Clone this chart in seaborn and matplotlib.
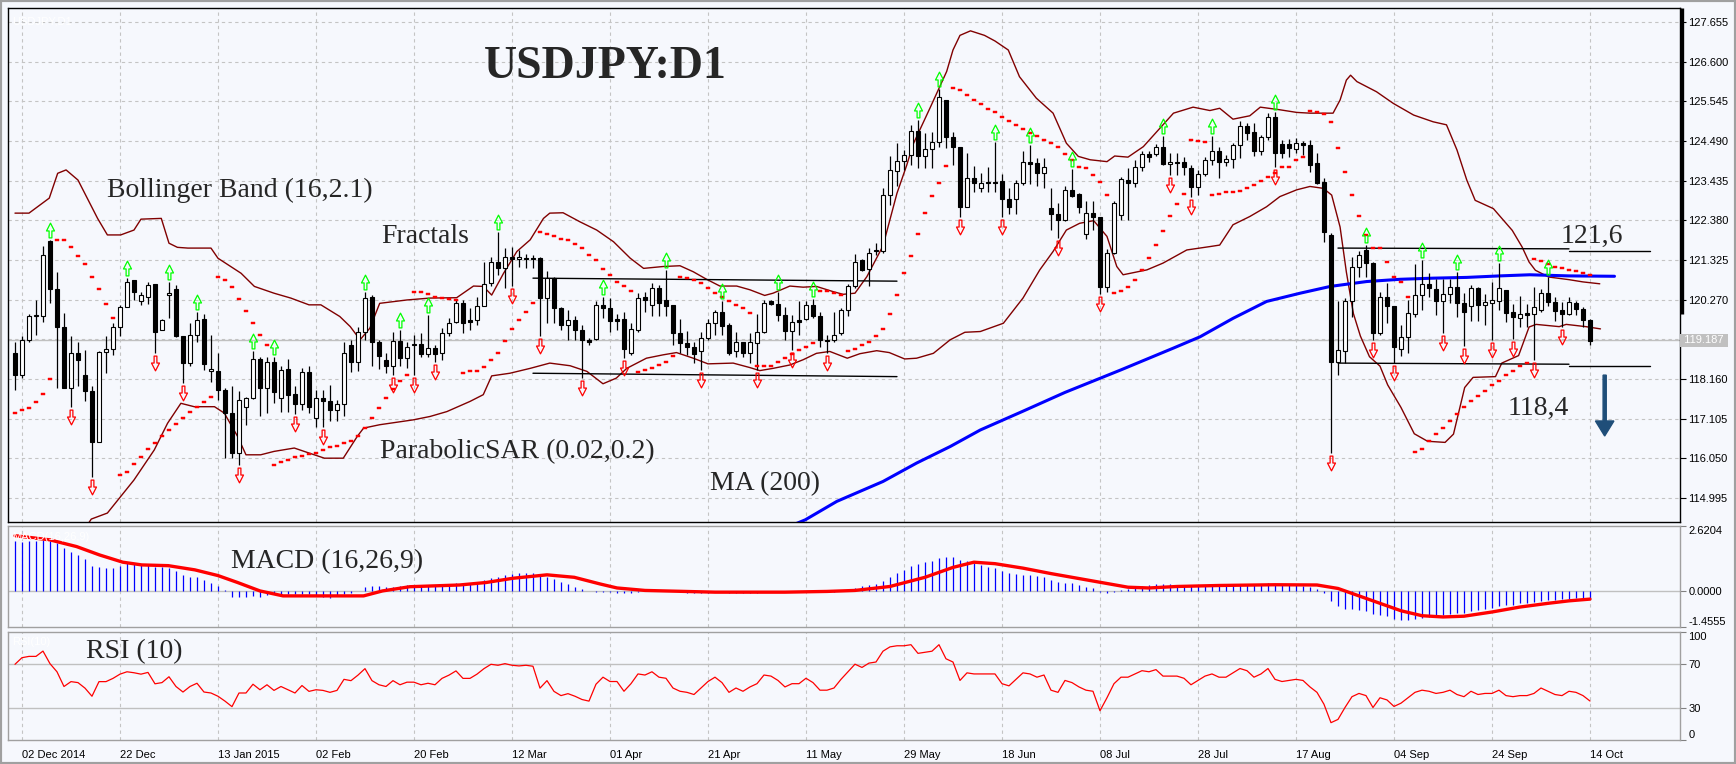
import numpy as np
import matplotlib
matplotlib.use('Agg')
import matplotlib.pyplot as plt
import matplotlib.transforms as mtransforms
from matplotlib.path import Path
from matplotlib.patches import Rectangle
import seaborn as sns

sns.set_style('white')
plt.rcParams['font.family'] = ['Liberation Sans', 'DejaVu Sans']

# ---------------- data (bar index 0 = 01 Dec 2014, daily bars) ----------------
opens = [118.86,118.27,119.20,119.83,119.83,121.83,120.54,119.53,117.93,118.86,
         118.27,117.84,116.49,118.87,118.95,119.53,120.07,120.78,120.24,120.35,
         120.69,119.46,120.40,120.54,119.29,118.58,119.33,119.75,118.37,118.37,
         117.87,117.25,116.18,117.42,117.64,118.68,117.91,118.62,117.64,118.42,
         117.75,117.49,118.34,117.11,117.66,117.56,117.34,117.49,119.07,118.62,
         119.42,120.33,119.15,118.65,118.49,119.18,118.71,119.06,119.09,118.82,
         118.98,118.84,119.37,119.68,120.17,119.73,119.73,120.10,120.71,121.28,
         121.10,121.41,121.35,121.37,121.37,121.37,120.31,120.84,120.04,119.60,
         119.73,119.46,119.20,119.22,120.13,120.04,119.75,119.75,118.86,119.46,
         120.33,120.13,120.59,120.26,120.13,119.38,119.11,119.00,118.91,119.24,
         119.66,119.93,119.60,118.89,119.13,118.84,119.11,119.42,120.22,120.15,
         119.86,119.44,119.73,119.75,120.13,119.84,119.20,119.20,119.37,119.98,
         120.62,121.31,121.08,121.60,121.55,123.05,123.70,123.96,124.12,124.76,
         124.08,124.27,124.46,125.58,124.59,124.34,122.74,123.50,123.23,123.41,
         123.41,123.43,122.94,122.94,123.37,123.92,123.90,123.65,122.70,122.55,
         122.39,123.19,123.08,122.02,122.57,122.46,120.60,121.50,122.52,123.45,
         123.37,123.79,124.14,124.14,124.32,123.87,123.93,123.93,123.76,123.26,
         123.61,123.99,124.22,123.93,124.00,124.38,124.89,124.74,124.21,124.59,
         125.12,124.40,124.40,124.27,124.43,124.38,123.90,123.41,121.99,118.62,
         118.89,120.24,121.13,121.59,121.24,119.37,120.35,120.10,118.95,119.27,
         119.89,120.39,120.69,120.54,120.22,120.41,120.60,120.19,120.10,120.57,
         120.12,120.19,120.24,120.53,119.93,119.78,119.91,119.89,120.00,120.45,
         120.20,119.98,119.89,120.18,120.02,119.73]
highs = [119.15,119.29,119.89,120.26,121.70,121.86,121.01,119.91,119.31,119.15,
         118.93,117.96,118.89,119.30,119.64,120.13,120.84,120.78,120.48,120.75,
         120.69,119.75,120.75,120.66,119.29,119.64,119.95,119.89,119.33,118.86,
         117.91,117.96,117.83,117.67,118.89,118.75,118.75,118.75,118.49,118.68,
         117.96,118.44,118.49,117.87,117.87,118.00,117.60,119.15,119.20,119.55,
         120.48,120.40,119.20,118.84,119.42,119.46,119.15,119.33,119.38,119.86,
         119.07,119.51,119.77,120.26,120.26,120.04,120.35,121.28,121.41,122.08,
         121.64,121.66,121.59,121.48,121.46,121.40,121.03,120.88,120.08,120.00,
         119.84,119.60,119.24,120.22,120.35,120.31,119.89,119.95,119.66,120.44,
         120.48,120.72,120.66,121.06,120.13,119.75,119.44,119.15,119.42,119.75,
         119.98,120.22,119.64,119.42,119.15,119.37,119.89,120.26,120.26,120.48,
         120.08,119.86,120.22,120.22,120.28,119.95,119.33,119.95,120.04,120.69,
         121.48,121.34,121.64,121.77,123.23,124.08,124.43,124.25,124.92,125.05,
         124.70,124.74,125.87,125.58,124.74,124.34,124.16,123.83,123.65,123.79,
         124.47,123.61,123.23,123.45,124.21,124.39,124.03,124.03,123.23,122.83,
         123.28,123.74,123.10,122.88,122.88,122.46,121.61,122.90,123.54,123.76,
         123.99,124.23,124.21,124.41,124.62,124.16,124.18,124.07,123.85,123.72,
         124.06,124.61,124.34,124.12,124.43,125.03,124.98,124.98,124.65,125.23,
         125.27,124.52,124.54,124.56,124.49,124.52,124.16,123.50,122.03,120.24,
         120.30,121.41,121.56,121.72,121.28,120.48,120.72,120.10,119.60,120.26,
         121.22,121.32,120.99,120.81,120.81,120.81,121.01,120.44,120.66,120.60,
         120.42,120.75,121.25,120.53,120.15,120.37,120.15,120.60,120.56,120.87,
         120.34,120.20,120.34,120.23,120.07,119.76]
lows = [117.87,118.18,119.13,119.33,119.68,120.19,117.93,117.91,117.42,117.96,
        117.56,115.56,116.47,118.31,118.80,119.29,120.07,120.26,120.13,120.16,
        118.86,119.45,119.79,119.27,118.05,118.49,119.15,118.40,118.09,117.60,
        116.05,116.05,115.87,116.94,117.62,117.16,117.25,117.51,117.29,117.29,
        117.23,117.34,117.25,116.89,116.89,117.03,117.03,117.16,118.33,118.38,
        119.20,118.49,118.42,118.31,118.27,118.49,118.44,118.27,118.75,118.75,
        118.62,118.67,119.29,119.64,119.38,119.46,119.60,120.10,120.62,120.93,
        120.57,120.62,121.15,121.10,121.10,119.29,119.64,119.66,119.46,119.20,
        119.20,118.18,119.07,119.20,119.77,119.42,119.46,118.71,118.80,119.42,
        119.95,119.84,119.82,119.82,119.06,118.84,118.80,118.58,118.40,119.20,
        119.33,119.33,118.80,118.75,118.75,118.58,118.40,119.37,120.13,119.71,
        119.20,118.93,119.33,119.73,119.77,119.02,118.84,119.15,119.33,119.82,
        120.57,121.02,120.62,121.46,121.50,122.79,123.28,123.72,123.85,123.76,
        123.76,123.76,124.34,124.30,123.85,122.48,122.73,123.14,123.14,123.14,
        123.14,122.48,122.55,122.55,123.32,123.35,123.29,123.23,122.12,121.90,
        122.35,123.01,122.57,121.88,122.12,120.42,120.46,121.48,122.39,122.39,
        123.26,123.68,123.94,124.09,123.85,123.59,123.59,123.59,123.01,123.05,
        123.56,123.85,123.50,123.83,123.76,124.03,124.52,124.09,124.12,124.52,
        123.79,124.03,124.06,124.16,124.12,123.67,123.35,121.81,116.18,118.26,
        118.58,119.80,120.88,120.88,119.20,119.33,119.64,118.58,118.77,118.84,
        119.80,119.99,120.33,119.86,119.39,120.19,119.80,119.04,119.71,119.71,
        119.60,119.20,119.99,119.68,119.21,119.55,119.55,118.65,119.94,120.11,
        119.71,119.55,119.85,119.87,119.53,119.07]
closes = [118.27,119.20,119.83,119.86,121.46,120.54,119.53,117.93,118.86,118.67,
          117.84,116.49,118.87,118.95,119.53,120.07,120.75,120.46,120.40,120.66,
          119.42,119.73,120.45,119.29,118.58,119.33,119.73,118.55,118.42,117.87,
          117.25,116.18,117.60,117.64,118.68,117.91,118.62,117.80,118.40,117.73,
          117.49,118.34,117.40,117.66,117.56,117.34,117.49,118.84,118.62,119.42,
          120.31,119.15,118.77,118.49,119.18,118.71,119.02,119.08,118.82,118.98,
          118.83,119.37,119.64,120.17,119.66,119.68,120.10,120.69,121.28,121.10,
          121.41,121.34,121.41,121.34,121.35,120.31,120.84,120.04,119.60,119.73,
          119.45,119.20,119.15,120.13,120.04,119.71,119.71,118.95,119.48,120.31,
          120.26,120.57,120.17,120.10,119.38,119.11,119.00,118.83,119.24,119.66,
          119.93,119.57,118.84,119.13,118.84,119.13,119.42,120.17,120.15,119.86,
          119.44,119.68,119.68,120.13,119.82,119.20,119.18,119.33,119.98,120.62,
          121.28,121.06,121.52,121.57,123.05,123.72,123.96,124.12,124.76,124.08,
          124.27,124.46,125.65,124.59,124.34,122.74,123.50,123.38,123.38,123.38,
          123.38,122.94,122.73,123.37,123.92,123.88,123.65,123.79,122.55,122.39,
          123.19,123.03,122.73,122.57,122.46,120.60,121.50,122.83,123.47,123.37,
          123.79,124.14,124.06,124.32,123.87,123.93,123.91,123.79,123.26,123.61,
          123.99,124.22,123.94,124.00,124.38,124.89,124.71,124.21,124.59,125.12,
          124.18,124.18,124.30,124.43,124.38,123.85,123.38,122.08,118.62,118.93,
          120.24,121.13,121.46,121.24,119.37,120.35,120.10,119.02,119.27,119.91,
          120.39,120.69,120.57,120.22,120.41,120.60,120.19,119.95,120.57,120.13,
          120.21,120.26,120.57,119.92,119.80,119.89,119.86,120.07,120.45,120.20,
          119.96,119.89,120.20,120.02,119.73,119.18]

parabolic_sar = [117.25,117.32,117.38,117.54,117.75,118.15,
    121.86,121.86,121.68,121.44,121.21,120.88,120.56,120.15,119.77,
    115.61,115.68,115.90,116.07,116.29,116.45,116.63,116.79,116.95,117.13,117.27,117.40,117.54,117.67,
    120.88,120.79,120.60,120.28,119.97,119.64,119.33,119.06,
    115.87,115.94,116.01,116.07,116.11,116.16,116.20,116.27,116.34,116.38,
    116.45,116.50,116.64,116.84,117.11,117.38,117.65,117.90,118.10,118.27,
    120.48,120.46,120.41,120.35,120.32,120.29,120.26,
    118.31,118.36,118.38,118.47,118.67,118.86,119.17,119.48,119.73,119.95,120.19,
    122.08,122.02,121.96,121.88,121.86,121.75,121.63,121.46,121.32,121.08,120.93,120.75,120.63,120.50,
    118.34,118.40,118.44,118.53,118.62,118.77,
    120.86,120.84,120.78,120.70,120.57,120.44,120.33,120.22,120.12,120.04,119.92,
    118.51,118.51,118.51,118.60,118.71,118.83,118.93,119.02,119.11,
    120.50,120.50,120.44,120.38,
    118.90,118.95,119.06,119.14,119.30,119.48,119.88,120.39,120.97,121.44,122.02,122.57,123.03,123.38,123.83,
    125.89,125.85,125.72,125.58,125.48,125.33,125.25,125.12,125.02,124.92,124.80,124.71,124.62,124.52,
    124.43,124.32,124.14,123.99,123.79,123.76,123.58,123.39,123.05,
    120.44,120.49,120.60,120.79,121.06,121.37,121.72,122.10,122.50,122.82,123.08,
    124.52,124.49,124.46,
    123.05,123.07,123.12,123.13,123.16,123.23,123.31,123.43,123.52,123.65,123.81,123.81,123.98,124.07,
    125.30,125.27,125.21,124.99,124.30,123.66,123.04,122.50,121.99,121.64,121.64,121.26,120.86,120.73,120.35,
    116.21,116.29,116.50,116.69,116.86,117.05,117.22,117.40,117.56,117.71,117.85,118.00,118.11,118.25,118.38,118.49,118.59,
    121.34,121.29,121.22,121.15,121.11,121.07,121.03,120.98,120.93]

fractal_up_bars = [5,16,22,26,34,37,50,55,59,69,84,93,101,109,114,129,132,140,145,151,164,171,180,193,201,206,212,219]
fractal_down_bars = [8,11,20,24,32,40,44,54,57,60,71,75,81,87,98,106,111,116,135,141,149,155,165,168,180,188,194,197,
                     204,207,211,214,217,221]

bb_upper_bar = [0,2.0,4.9,6.1,7.3,9.0,11.8,13.2,15.1,17.0,18.0,20.9,22.0,23.2,24.7,28.0,29.0,32.3,34.2,37.0,39.4,42.0,43.7,
    46.4,47.9,49.3,50.7,52.1,56.0,59.3,63.1,65.5,66.9,68.1,69.8,71.7,73.6,75.5,76.4,78.3,80.7,83.1,85.5,87.9,89.8,92.6,
    95.0,96.9,98.8,100.7,103.1,105.0,107.1,108.3,110.7,112.6,114.5,116.9,118.3,120.0,121.7,124.0,126.0,127.4,128.3,130.7,
    133.1,134.0,135.0,136.5,138.5,140.0,141.9,143.5,145.9,148.3,150.2,151.9,153.6,156.0,157.1,159.0,161.2,164.0,165.5,
    168.3,170.7,172.1,174.0,176.4,177.9,180.7,183.1,185.0,188.3,189.3,190.2,190.8,191.7,194.5,196.9,199.8,202.6,204.5,
    206.0,207.4,208.6,211.2,213.9,215.3,216.3,217.2,219.1,222.0,224.0,226.4]
bb_upper_val = [122.57,122.57,122.97,123.63,123.72,123.45,122.43,121.99,121.99,122.12,122.41,122.43,121.77,121.66,121.64,
    121.64,121.37,120.97,120.62,120.44,120.31,120.13,120.13,119.82,119.55,119.20,119.51,120.17,120.26,120.31,120.32,120.63,
    120.62,120.39,120.97,121.55,121.86,122.43,122.57,122.58,122.34,122.12,121.81,121.37,121.10,121.15,121.17,121.01,120.81,
    120.63,120.63,120.53,120.38,120.44,120.63,120.60,120.62,120.48,120.41,120.44,120.88,121.70,123.10,123.85,124.40,125.36,
    126.34,126.91,127.30,127.42,127.30,127.15,126.91,126.20,125.63,125.23,124.43,124.08,123.99,123.94,124.09,124.06,124.34,
    124.92,125.23,125.39,125.30,125.36,125.07,125.16,125.39,125.32,125.25,125.23,125.23,125.58,126.11,126.24,126.07,125.80,
    125.49,125.18,125.00,124.92,124.25,123.45,122.91,122.69,122.11,121.67,121.27,121.05,120.87,120.80,120.74,120.69]
bb_lower_bar = [0,5,9,10.9,13.2,17.0,19.9,21.8,23.7,25.6,28.5,29.9,31.8,33.0,35.1,37.0,39.9,41.8,44.2,46.9,48.9,49.8,52.1,
    56.9,59.3,61.7,65.0,66.9,68.1,70.7,73.6,76.4,79.3,81.7,84.0,85.9,87.4,90.2,92.6,94.5,96.9,99.0,102.6,105.0,106.4,108.3,
    110.7,112.6,114.5,116.4,118.9,120.7,123.1,124.9,127.1,128.8,131.2,133.6,135.7,137.9,141.2,144.0,146.4,148.3,150.2,
    152.1,154.1,156.0,157.4,158.3,161.7,164.0,167.4,170.7,172.1,174.0,176.4,178.8,180.7,183.1,185.0,186.9,188.1,189.3,
    190.2,191.2,192.2,193.5,195.0,196.1,198.0,199.9,201.8,204.3,205.5,207.1,208.3,211.5,212.4,214.8,216.3,217.3,220.6,
    221.6,224.4,226.5]
bb_lower_val = [113.90,113.60,113.90,114.43,114.59,115.47,116.27,116.98,117.51,117.42,117.42,117.25,116.63,116.14,116.14,
    116.23,116.32,116.20,116.05,116.05,116.63,116.85,116.94,117.07,117.16,117.29,117.56,117.74,118.24,118.31,118.44,118.58,
    118.51,118.36,118.03,118.18,118.44,118.71,118.80,118.86,118.71,118.56,118.58,118.46,118.38,118.44,118.53,118.67,118.84,
    118.89,118.71,118.83,118.91,118.86,118.69,118.71,118.84,119.20,119.40,119.42,119.64,120.31,121.06,121.55,122.12,122.30,
    122.37,121.95,121.15,120.93,121.06,121.24,121.59,121.68,121.72,122.26,122.48,122.74,123.01,123.19,123.28,123.23,123.05,
    122.20,121.00,119.90,119.30,118.75,118.50,118.00,117.40,116.70,116.50,116.47,116.69,117.93,118.20,118.22,118.58,118.78,
    119.54,119.61,119.55,119.61,119.55,119.49]

ma200_bar = [105,112.9,117.4,124.0,128.8,133.6,137.9,144,150,158,165.5,169.3,174.0,178.8,183.6,187.9,193.1,197.9,202.6,
             207.4,212.1,216.4,222,228.5]
ma200_val = [113.80,114.41,114.90,115.43,115.92,116.36,116.80,117.30,117.80,118.40,118.98,119.28,119.77,120.22,120.44,
             120.62,120.75,120.81,120.84,120.86,120.90,120.93,120.90,120.89]

# support / resistance lines: (bar0, price0, bar1, price1)
level_lines = [(74, 120.84, 126, 120.76), (74, 118.31, 126, 118.22),
               (189, 121.64, 222, 121.62), (222, 121.57, 233.6, 121.57),
               (189, 118.58, 222, 118.55), (222, 118.51, 233.6, 118.51)]

macd_main = [2.03,1.99,2.03,2.02,2.06,2.03,1.92,1.72,1.59,1.45,
    1.29,1.01,0.96,0.94,0.94,1.01,1.12,1.12,1.05,1.08,
    0.98,0.96,0.94,0.82,0.65,0.58,0.58,0.44,0.34,0.20,
    0.04,-0.23,-0.23,-0.26,-0.20,-0.23,-0.16,-0.12,-0.13,-0.12,
    -0.12,-0.13,-0.12,-0.20,-0.23,-0.30,-0.20,-0.12,-0.07,0.00,
    0.17,0.20,0.20,0.17,0.17,0.20,0.22,0.20,0.22,0.22,
    0.23,0.23,0.24,0.31,0.31,0.34,0.38,0.44,0.51,0.55,
    0.65,0.69,0.71,0.71,0.71,0.65,0.55,0.47,0.38,0.28,
    0.17,0.08,0.00,-0.03,-0.05,-0.06,-0.07,-0.09,-0.08,-0.04,
    -0.02,0.00,0.01,0.01,-0.02,-0.05,-0.07,-0.10,-0.10,-0.08,
    -0.06,-0.05,-0.08,-0.09,-0.10,-0.10,-0.08,-0.04,-0.01,0.00,
    -0.01,-0.02,-0.01,0.01,0.01,-0.02,-0.03,-0.03,0.00,0.05,
    0.13,0.18,0.24,0.29,0.42,0.58,0.72,0.85,0.99,1.08,
    1.15,1.22,1.33,1.38,1.36,1.25,1.19,1.12,1.05,0.98,
    0.92,0.82,0.72,0.68,0.66,0.63,0.60,0.57,0.46,0.36,
    0.33,0.30,0.24,0.16,0.10,-0.04,-0.10,-0.06,0.02,0.07,
    0.13,0.19,0.23,0.27,0.27,0.26,0.25,0.23,0.19,0.18,
    0.20,0.22,0.21,0.21,0.22,0.26,0.27,0.25,0.26,0.30,
    0.27,0.25,0.23,0.22,0.20,0.15,0.06,-0.10,-0.42,-0.62,
    -0.72,-0.74,-0.76,-0.79,-0.93,-0.98,-1.03,-1.12,-1.17,-1.17,
    -1.13,-1.08,-1.04,-1.01,-0.97,-0.93,-0.91,-0.89,-0.80,-0.76,
    -0.72,-0.68,-0.62,-0.58,-0.55,-0.50,-0.47,-0.44,-0.40,-0.36,
    -0.35,-0.34,-0.31,-0.30,-0.30,-0.32]
macd_signal_bar = [0,5,8.8,12.1,15.4,18.1,21.9,25.7,29,31.8,35,38.3,41.6,49.8,52.5,56.4,63.5,67.3,71.1,76,79.9,83.6,86,90,
    100,110,116,120,125,130,134,137,140,144,148,152,156,159,162,166,172,180,186,189,192,195,198,201,204,207,211,215,219,
    222,225]
macd_signal_val = [2.23,2.06,1.79,1.45,1.16,1.05,1.02,0.85,0.62,0.34,0.0,-0.20,-0.20,-0.20,0.0,0.17,0.24,0.34,0.51,0.65,
    0.55,0.28,0.12,0.02,-0.05,-0.05,-0.02,0.02,0.18,0.55,0.95,1.16,1.10,0.92,0.70,0.50,0.30,0.15,0.12,0.18,0.22,0.25,0.24,
    0.10,-0.20,-0.50,-0.80,-1.00,-1.05,-1.02,-0.85,-0.65,-0.50,-0.40,-0.33]

rsi10 = [69.9,76.0,77.2,77.2,82.1,70.5,63.0,49.4,53.9,53.0,
    47.9,40.4,53.9,53.9,56.9,60.8,63.0,62.1,60.8,62.4,
    51.9,53.0,58.4,49.4,44.3,49.4,52.4,44.3,43.4,40.4,
    35.9,30.8,43.4,43.4,51.5,46.4,51.0,45.8,49.4,46.4,
    43.4,50.3,44.9,46.4,45.8,44.0,45.8,56.0,54.8,59.9,
    65.9,54.8,51.0,49.4,54.8,51.0,53.4,53.4,51.0,52.4,
    51.0,56.9,59.9,63.8,56.9,56.9,60.8,65.9,69.9,69.0,
    70.5,69.0,68.4,69.0,68.1,47.9,54.8,44.9,41.0,42.8,
    40.4,37.4,35.9,51.5,
    58,54,54,45,52,61,60,63,58,57,
    48,45,44,42,48,54,58,53,44,48,
    45,49,52,60,59,55,49,52,52,57,
    53,46,46,48,56,63,70,67,71,72,
    82,86,87,87,88,80,81,82,88,75,
    72,55,62,61,61,61,61,52,50,56,
    62,61,58,60,46,44,55,53,49,46,
    45,27,39,52,58,58,61,64,63,65,
    59,59,59,57,51,55,59,61,58,58,
    62,66,64,58,61,66,56,54,55,56,
    55,49,44,33,16,19,30,40,43,41,
    30,39,37,31,34,39,44,46,45,43,
    44,46,42,40,45,42,43,43,46,41,
    40,41,41,43,48,45,42,41,45,44,
    41,36]

date_tick_bars = [1,15,29,43,57,71,85,99,113,127,141,155,169,183,197,211,225]
date_tick_labels = ['02 Dec 2014','22 Dec','13 Jan 2015','02 Feb','20 Feb','12 Mar','01 Apr','21 Apr','11 May',
                    '29 May','18 Jun','08 Jul','28 Jul','17 Aug','04 Sep','24 Sep','14 Oct']
price_ticks = [114.995,116.050,117.105,118.160,119.215,120.270,121.325,122.380,123.435,124.490,125.545,126.600,127.655]
price_tick_labels = ['114.995','116.050','117.105','118.160','','120.270','121.325','122.380','123.435','124.490',
                     '125.545','126.600','127.655']
bid_price = 119.187
macd_ticks = [2.6204, 0.0, -1.4555]
macd_tick_labels = ['2.6204', '0.0000', '-1.4555']
rsi_ticks = [100, 70, 30, 0]
rsi_tick_labels = ['100', '70', '30', '0']
rsi_levels = [70, 30]

n = len(closes)
for name, arr in [('opens', opens), ('highs', highs), ('lows', lows), ('sar', parabolic_sar),
                  ('macd', macd_main), ('rsi', rsi10)]:
    if len(arr) != n:
        print('LENGTH MISMATCH', name, len(arr), n)

# ---------------- figure ----------------
W, H = 1736, 764
BG = '#F6F8FD'
fig = plt.figure(figsize=(W / 100, H / 100), dpi=100)
fig.patch.set_facecolor(BG)

def fx(px):
    return px / W

def fy(py):
    return 1 - py / H

L, R = 8.4, 1680
ax = fig.add_axes([fx(L), fy(521.7), fx(R - L), (521.7 - 8.3) / H])
axm = fig.add_axes([fx(L), fy(627), fx(R - L), (627 - 526) / H], sharex=ax)
axr = fig.add_axes([fx(L), fy(740), fx(R - L), (740 - 631.7) / H], sharex=ax)

GRID = '#C4C4C4'
DASH = (0, (3, 3))
for a in (ax, axm, axr):
    a.set_facecolor(BG)
    a.set_xlim(-0.94, 237.86)
    a.set_axisbelow(True)

bars = np.arange(n)
o = np.array(opens); h = np.array(highs); l = np.array(lows); c = np.array(closes)

# grid
for xv in date_tick_bars:
    for a in (ax, axm, axr):
        a.axvline(xv, color=GRID, lw=0.8, ls=DASH, zorder=0)
for yv in price_ticks:
    ax.axhline(yv, color=GRID, lw=0.8, ls=DASH, zorder=0)
axm.axhline(0, color='#C0C0C0', lw=1.0, zorder=0)
for yv in rsi_levels:
    axr.axhline(yv, color='#C0C0C0', lw=1.0, zorder=0)

# bid line
ax.axhline(bid_price, color='#C0C0C0', lw=1.0, zorder=1)

# Bollinger bands and MA
sns.lineplot(x=bb_upper_bar, y=bb_upper_val, ax=ax, color='#800000', linewidth=1.0, estimator=None, sort=False, zorder=2)
sns.lineplot(x=bb_lower_bar, y=bb_lower_val, ax=ax, color='#800000', linewidth=1.0, estimator=None, sort=False, zorder=2)
sns.lineplot(x=ma200_bar, y=ma200_val, ax=ax, color='#0000FF', linewidth=2.2, estimator=None, sort=False, zorder=2)

# levels
for b0, p0, b1, p1 in level_lines:
    ax.plot([b0, b1], [p0, p1], color='black', lw=1.0, zorder=2)

# candles
ax.vlines(bars, l, h, color='black', lw=0.9, zorder=3)
body_h = np.maximum(np.abs(c - o), 0.006)
ax.bar(bars, body_h, bottom=np.minimum(o, c), width=0.58,
       color=np.where(c >= o, 'white', 'black'), edgecolor='black', linewidth=0.8, zorder=4)

# parabolic SAR
rect = Path([(-1, -0.55), (1, -0.55), (1, 0.55), (-1, 0.55), (-1, -0.55)],
            [Path.MOVETO, Path.LINETO, Path.LINETO, Path.LINETO, Path.CLOSEPOLY])
ax.plot(bars, parabolic_sar, ls='none', marker=rect, ms=3.3, color='#FF0000', mec='#FF0000', mew=0.3, zorder=5)

# fractals
up_v = [(-0.08, 0.15), (-0.08, 0.55), (-0.23, 0.55), (0, 1.0), (0.23, 0.55), (0.08, 0.55), (0.08, 0.15), (-0.08, 0.15)]
codes = [Path.MOVETO] + [Path.LINETO] * 6 + [Path.CLOSEPOLY]
up_arrow = Path(up_v, codes)
dn_arrow = Path([(x_, -y_) for x_, y_ in up_v], codes)
ax.plot(fractal_up_bars, h[fractal_up_bars], ls='none', marker=up_arrow, ms=25, mfc='none', mec='#00FF00', mew=0.9, zorder=5)
ax.plot(fractal_down_bars, l[fractal_down_bars], ls='none', marker=dn_arrow, ms=25, mfc='none', mec='#FF0000', mew=0.9, zorder=5)

# arrow
ax.arrow(227.1, 118.26, 0, -1.62, width=0.45, head_width=2.64, head_length=0.40,
         length_includes_head=True, color='#1F4E79', zorder=6)

ax.set_ylim(114.36, 128.02)

# MACD
axm.vlines(bars, 0, macd_main, color='#0000FF', lw=0.9, zorder=2)
sns.lineplot(x=macd_signal_bar, y=macd_signal_val, ax=axm, color='#FF0000', linewidth=2.4, estimator=None, sort=False, zorder=3)
axm.set_ylim(-1.4555, 2.6204)

# RSI
sns.lineplot(x=list(bars), y=rsi10, ax=axr, color='#FF0000', linewidth=0.9, estimator=None, sort=False, zorder=2)
axr.set_ylim(0, 100)

for a in (ax, axm, axr):
    a.set_xlabel('')
    a.set_ylabel('')
    a.yaxis.tick_right()

# axes / ticks
ax.set_yticks(price_ticks)
ax.set_yticklabels(price_tick_labels)
ax.tick_params(axis='y', direction='out', length=4, width=0.8, color='black', labelcolor='black', labelsize=8, pad=2)
axm.set_yticks(macd_ticks)
axm.set_yticklabels(macd_tick_labels)
axr.set_yticks(rsi_ticks)
axr.set_yticklabels(rsi_tick_labels)
for a in (axm, axr):
    a.tick_params(axis='y', direction='out', length=4, width=0.8, color='#808080', labelcolor='black', labelsize=8, pad=2)
tl = axm.get_yticklabels(); tl[0].set_va('top'); tl[-1].set_va('bottom')
tl = axr.get_yticklabels(); tl[0].set_va('top'); tl[-1].set_va('bottom')

axr.set_xticks(date_tick_bars)
axr.set_xticklabels(date_tick_labels, ha='left')
axr.tick_params(axis='x', direction='out', length=4, width=0.8, color='#808080', labelcolor='black', labelsize=8, pad=3)
for a in (ax, axm):
    a.tick_params(axis='x', bottom=False, labelbottom=False)

for s in ax.spines.values():
    s.set_color('black'); s.set_linewidth(1.0)
for a in (axm, axr):
    for s in a.spines.values():
        s.set_color('#A0A0A0'); s.set_linewidth(1.0)

# thick bar at right axis and bid label
bt = mtransforms.blended_transform_factory(ax.transAxes, ax.transData)
ax.plot([1.0013, 1.0013], [119.88, 128.02], transform=bt, color='black', lw=2.4, clip_on=False, solid_capstyle='butt')
ax.text(1.0006, bid_price, ' 119.187 ', transform=bt, ha='left', va='center', fontsize=8, color='white',
        bbox=dict(boxstyle='square,pad=0.12', fc='#C0C0C0', ec='none'), clip_on=False)

# texts
serif = ['Liberation Serif', 'DejaVu Serif']
fig.text(fx(484), fy(78), 'USDJPY:D1', fontsize=33, fontweight='bold', family=serif, va='baseline')
fig.text(fx(107), fy(197), 'Bollinger Band (16,2.1)', fontsize=20, family=serif, va='baseline')
fig.text(fx(381), fy(243), 'Fractals', fontsize=20, family=serif, va='baseline')
fig.text(fx(380), fy(458), 'ParabolicSAR (0.02,0.2)', fontsize=20, family=serif, va='baseline')
fig.text(fx(710), fy(490), 'MA (200)', fontsize=20, family=serif, va='baseline')
fig.text(fx(231), fy(568), 'MACD (16,26,9)', fontsize=20, family=serif, va='baseline')
fig.text(fx(86), fy(658), 'RSI (10)', fontsize=20, family=serif, va='baseline')
fig.text(fx(1561), fy(243), '121,6', fontsize=20, family=serif, va='baseline')
fig.text(fx(1508), fy(414.7), '118,4', fontsize=20, family=serif, va='baseline')
fig.text(fx(12), fy(24), 'USDJPY,D1', fontsize=8, color='white')
fig.text(fx(12), fy(540), 'MACD(16,26,9)', fontsize=8, color='white')
fig.text(fx(12), fy(645), 'RSI(10)', fontsize=8, color='white')

fig.add_artist(Rectangle((0, 0), 1, 1, transform=fig.transFigure, fill=False, ec='#A0A0A0', lw=3))

fig.savefig('out.png', dpi=100, facecolor=fig.get_facecolor())
